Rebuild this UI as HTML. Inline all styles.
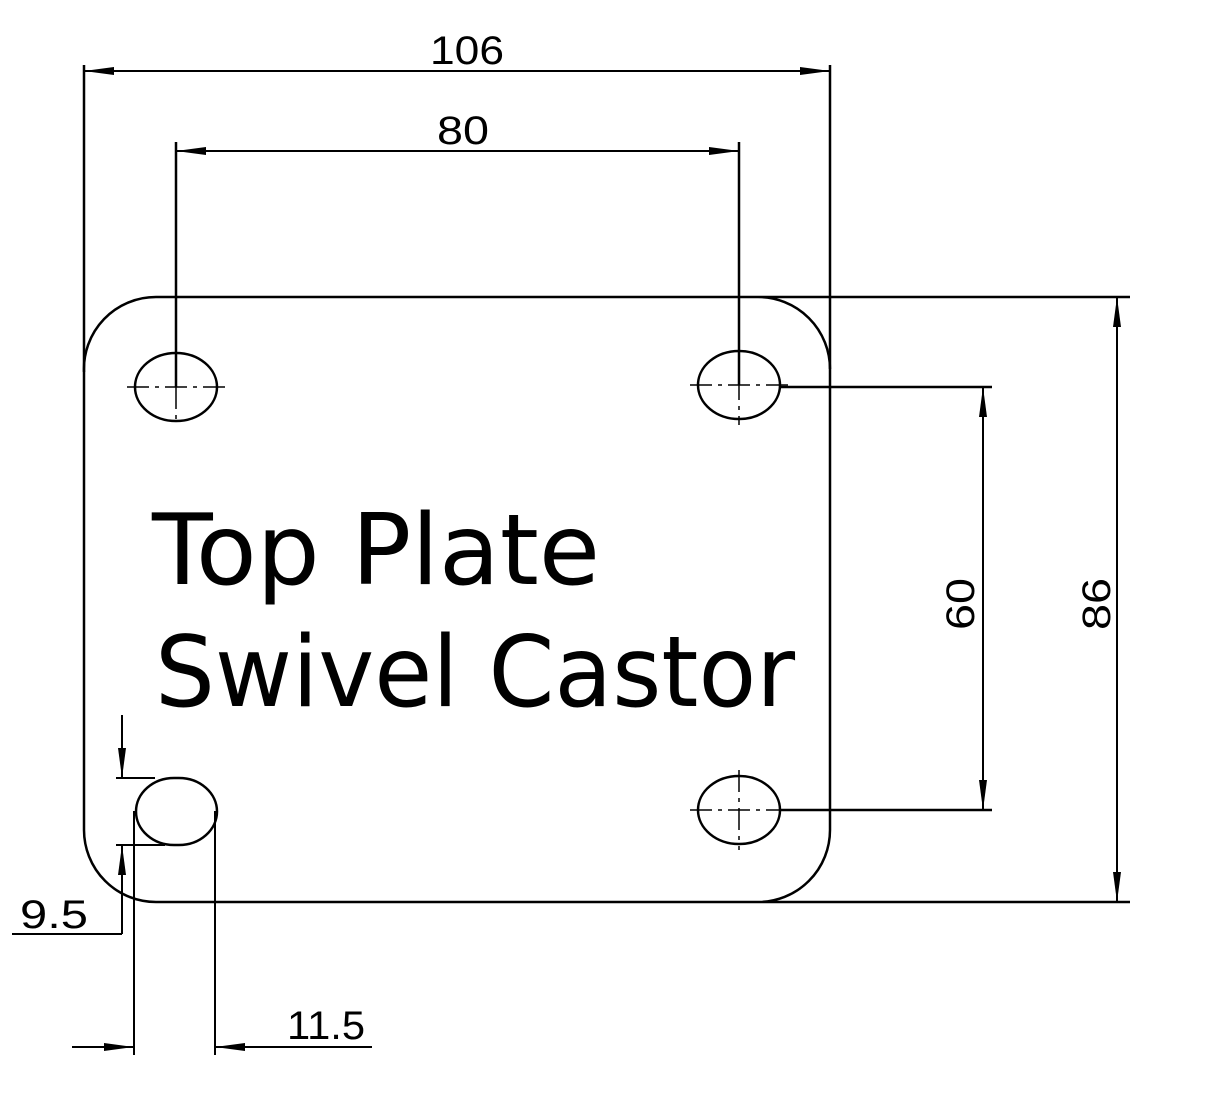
<!DOCTYPE html>
<html><head><meta charset="utf-8"><style>html,body{margin:0;padding:0;background:#fff}svg{display:block}</style></head>
<body>
<svg width="1209" height="1100" viewBox="0 0 1209 1100" xmlns="http://www.w3.org/2000/svg">
<defs>
<marker id="a" viewBox="0 0 30 10" refX="30" refY="5" markerWidth="30" markerHeight="10" markerUnits="userSpaceOnUse" orient="auto-start-reverse">
<path d="M0,1 L30,5 L0,9 Z" fill="#000"/></marker>
</defs>
<g fill="none" stroke="#000" stroke-width="2.5">
<path d="M156,297 H1130 M84,372 A72,72 0 0 1 156,297 M84,372 V830 A72,72 0 0 0 156,902 H1130 M758,297 A72,72 0 0 1 830,369 V830 A72,72 0 0 1 758,902"/>
<path d="M84,65 V372 M830,65 V369 M176,142 V387 M739,142 V385 M780,387 H992 M780,810 H992"/>
<ellipse cx="176" cy="387" rx="41" ry="34"/>
<ellipse cx="739" cy="385" rx="41" ry="34"/>
<ellipse cx="739" cy="810" rx="41" ry="34"/>
<rect x="136" y="778" width="81" height="67" rx="38" ry="33.5"/>
<path d="M84,71 H830" marker-start="url(#a)" marker-end="url(#a)" stroke-width="2"/>
<path d="M176,151 H739" marker-start="url(#a)" marker-end="url(#a)" stroke-width="2"/>
<path d="M983,387 V810" marker-start="url(#a)" marker-end="url(#a)" stroke-width="2"/>
<path d="M1117,297 V902" marker-start="url(#a)" marker-end="url(#a)" stroke-width="2"/>
<path d="M116,778 H155 M116,845 H165" stroke-width="2"/>
<path d="M122,715 V778" marker-end="url(#a)" stroke-width="2"/>
<path d="M122,934 V845" marker-end="url(#a)" stroke-width="2"/>
<path d="M122,934 H12" stroke-width="2"/>
<path d="M134,811 V1055 M215,811 V1055" stroke-width="2"/>
<path d="M72,1047 H134" marker-end="url(#a)" stroke-width="2"/>
<path d="M372,1047 H215" marker-end="url(#a)" stroke-width="2"/>
</g>
<g stroke="#000" stroke-width="1.5" fill="none">
<path d="M127,387 H225 M176,387 V425" stroke-dasharray="22,6,4,6"/>
<path d="M690,385 H788 M739,340 V425" stroke-dasharray="22,6,4,6"/>
<path d="M690,810 H788 M739,770 V850" stroke-dasharray="22,6,4,6"/>
</g>
<g font-family="Liberation Sans, sans-serif" font-size="40" fill="#000">
<text x="430" y="64" textLength="74" lengthAdjust="spacingAndGlyphs">106</text>
<text x="437" y="144" textLength="52" lengthAdjust="spacingAndGlyphs">80</text>
<text x="20" y="928" textLength="68" lengthAdjust="spacingAndGlyphs">9.5</text>
<text x="287" y="1039" textLength="78" lengthAdjust="spacingAndGlyphs">11.5</text>
<text transform="translate(974,630) rotate(-90)" textLength="52" lengthAdjust="spacingAndGlyphs">60</text>
<text transform="translate(1110,630) rotate(-90)" textLength="52" lengthAdjust="spacingAndGlyphs">86</text>
</g>
<g font-family="DejaVu Sans, sans-serif" font-size="98" fill="#000">
<text x="152" y="584" textLength="448" lengthAdjust="spacingAndGlyphs">Top Plate</text>
<text x="155" y="706" textLength="640" lengthAdjust="spacingAndGlyphs">Swivel Castor</text>
</g>
</svg>
</body></html>
